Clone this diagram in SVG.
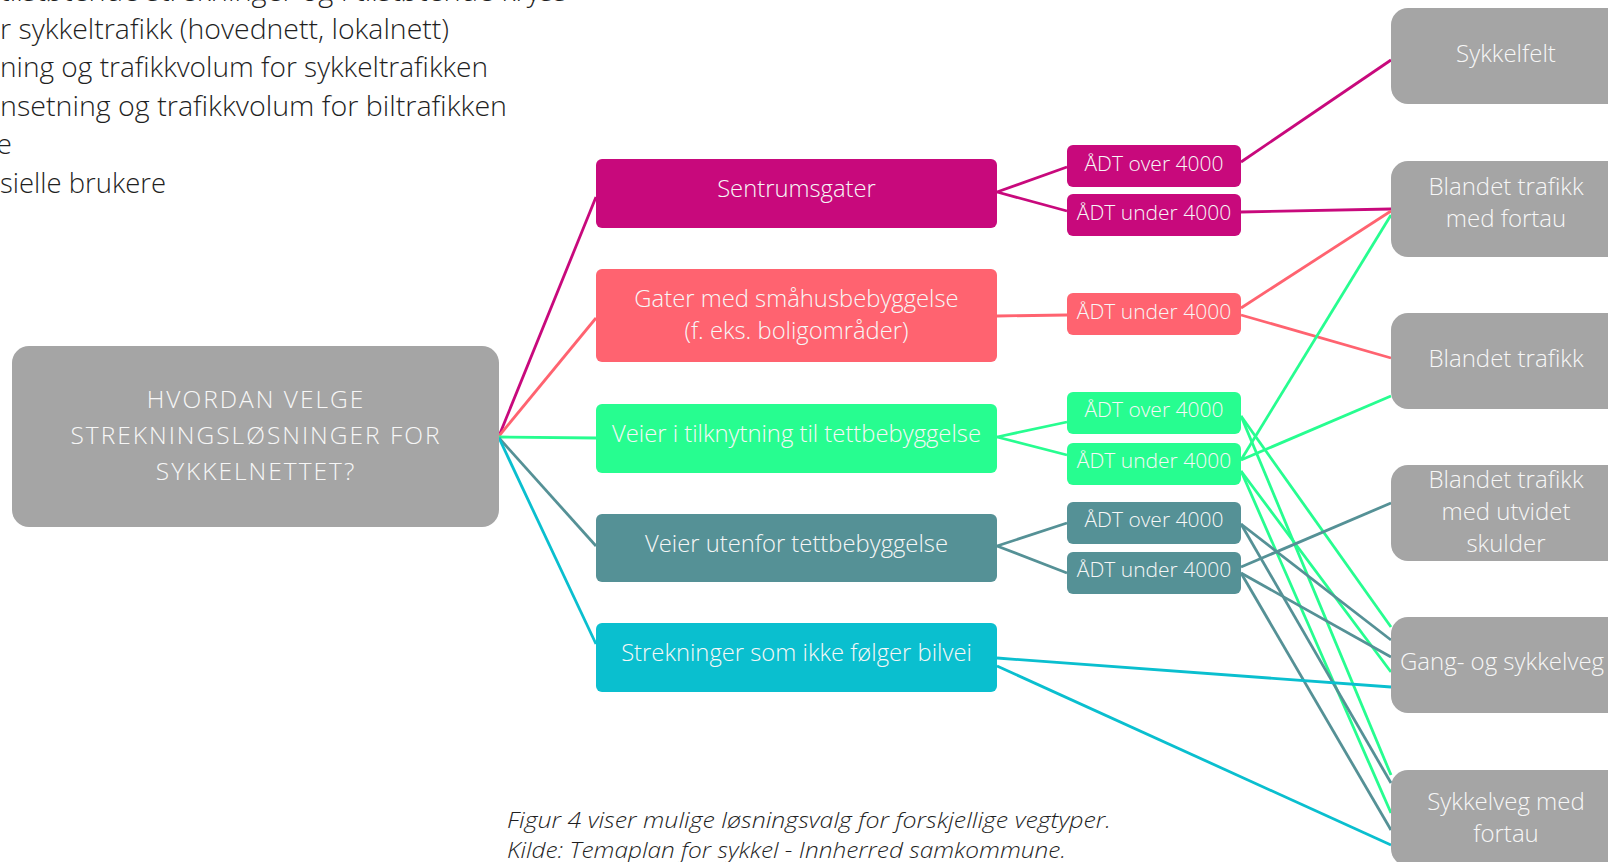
<svg xmlns="http://www.w3.org/2000/svg" width="1608" height="862" viewBox="0 0 1608 862">
<style>
.t{font-family:"Open Sans","Liberation Sans",sans-serif;font-weight:300;fill:#F7F7F7}
.l1{font-size:23.8px}
.adt{font-size:21px}
.rb{font-size:24px}
.root{font-size:24.5px;letter-spacing:2px}
.body{font-family:"Open Sans","Liberation Sans",sans-serif;font-weight:300;font-size:28px;fill:#1F1F1F}
.cap{font-family:"Open Sans","Liberation Sans",sans-serif;font-weight:300;font-style:italic;font-size:22px;fill:#1F1F1F}
.c{fill:none;stroke-width:2.8}
.pk{stroke:#C8097C}.sa{stroke:#FF6370}.gr{stroke:#27FD90}.te{stroke:#559196}.cy{stroke:#0ABFCF}
.grey{fill:#A5A5A5}
</style>
<rect width="1608" height="862" fill="#FFFFFF"/>
<g id="bodytext">
<text class="body" x="567" y="1" text-anchor="end" textLength="567" lengthAdjust="spacingAndGlyphs">tilstøtende strekninger og i tilstøtende kryss</text>
<text class="body" x="449" y="39" text-anchor="end" textLength="449" lengthAdjust="spacingAndGlyphs">r sykkeltrafikk (hovednett, lokalnett)</text>
<text class="body" x="488" y="77" text-anchor="end" textLength="488" lengthAdjust="spacingAndGlyphs">ning og trafikkvolum for sykkeltrafikken</text>
<text class="body" x="507" y="116" text-anchor="end" textLength="507" lengthAdjust="spacingAndGlyphs">nsetning og trafikkvolum for biltrafikken</text>
<text class="body" x="12" y="154" text-anchor="end">e</text>
<text class="body" x="166" y="193" text-anchor="end" textLength="166" lengthAdjust="spacingAndGlyphs">sielle brukere</text>
</g>
<g id="connectors">
<line class="c pk" x1="499" y1="436" x2="596" y2="197"/>
<line class="c sa" x1="499" y1="436" x2="596" y2="318"/>
<line class="c gr" x1="499" y1="437" x2="596" y2="438"/>
<line class="c te" x1="499" y1="438" x2="596" y2="546"/>
<line class="c cy" x1="499" y1="438" x2="596" y2="644"/>
<line class="c pk" x1="997" y1="192" x2="1067" y2="167"/>
<line class="c pk" x1="997" y1="192" x2="1067" y2="211"/>
<line class="c sa" x1="997" y1="316" x2="1067" y2="315"/>
<line class="c gr" x1="997" y1="437" x2="1067" y2="422"/>
<line class="c gr" x1="997" y1="437" x2="1067" y2="455"/>
<line class="c te" x1="997" y1="546" x2="1067" y2="523"/>
<line class="c te" x1="997" y1="546" x2="1067" y2="573"/>
<line class="c pk" x1="1241" y1="162" x2="1391" y2="60"/>
<line class="c pk" x1="1241" y1="212" x2="1391" y2="209"/>
<line class="c sa" x1="1241" y1="308" x2="1391" y2="211"/>
<line class="c sa" x1="1241" y1="315" x2="1391" y2="358"/>
<line class="c gr" x1="1241" y1="460" x2="1391" y2="215"/>
<line class="c gr" x1="1241" y1="460" x2="1391" y2="396"/>
<line class="c gr" x1="1241" y1="416" x2="1391" y2="627"/>
<line class="c gr" x1="1241" y1="416" x2="1391" y2="775"/>
<line class="c gr" x1="1241" y1="471" x2="1391" y2="672"/>
<line class="c gr" x1="1241" y1="471" x2="1391" y2="813"/>
<line class="c te" x1="1241" y1="524" x2="1391" y2="640"/>
<line class="c te" x1="1241" y1="524" x2="1391" y2="783"/>
<line class="c te" x1="1241" y1="567" x2="1391" y2="503"/>
<line class="c te" x1="1241" y1="573" x2="1391" y2="657"/>
<line class="c te" x1="1241" y1="573" x2="1391" y2="830"/>
<line class="c cy" x1="997" y1="658" x2="1391" y2="687"/>
<line class="c cy" x1="997" y1="666" x2="1391" y2="845"/>
</g>
<g id="root">
<rect class="grey" x="12" y="346" width="487" height="181" rx="17"/>
<text class="t root" text-anchor="middle"><tspan x="256" y="408">HVORDAN VELGE</tspan><tspan x="256" y="444">STREKNINGSLØSNINGER FOR</tspan><tspan x="256" y="480">SYKKELNETTET?</tspan></text>
</g>
<g id="sentrumsgater">
<rect x="596" y="159" width="401" height="69" rx="6" fill="#C8097C"/>
<text class="t l1" x="796.5" y="197" text-anchor="middle">Sentrumsgater</text>
</g>
<g id="smahus">
<rect x="596" y="269" width="401" height="93" rx="6" fill="#FF6370"/>
<text class="t l1" text-anchor="middle"><tspan x="796.5" y="307">Gater med småhusbebyggelse</tspan><tspan x="796.5" y="339">(f. eks. boligområder)</tspan></text>
</g>
<g id="tilknytning">
<rect x="596" y="404" width="401" height="69" rx="6" fill="#27FD90"/>
<text class="t l1" x="796.5" y="442" text-anchor="middle">Veier i tilknytning til tettbebyggelse</text>
</g>
<g id="utenfor">
<rect x="596" y="514" width="401" height="68" rx="6" fill="#559196"/>
<text class="t l1" x="796.5" y="552" text-anchor="middle">Veier utenfor tettbebyggelse</text>
</g>
<g id="strekninger">
<rect x="596" y="623" width="401" height="69" rx="6" fill="#0ABFCF"/>
<text class="t l1" x="796.5" y="661" text-anchor="middle">Strekninger som ikke følger bilvei</text>
</g>
<g id="adt-m-over">
<rect x="1067" y="145" width="174" height="42" rx="6" fill="#C8097C"/>
<text class="t adt" x="1154" y="171" text-anchor="middle">ÅDT over 4000</text>
</g>
<g id="adt-m-under">
<rect x="1067" y="194" width="174" height="42" rx="6" fill="#C8097C"/>
<text class="t adt" x="1154" y="220" text-anchor="middle">ÅDT under 4000</text>
</g>
<g id="adt-s-under">
<rect x="1067" y="293" width="174" height="42" rx="6" fill="#FF6370"/>
<text class="t adt" x="1154" y="319" text-anchor="middle">ÅDT under 4000</text>
</g>
<g id="adt-g-over">
<rect x="1067" y="392" width="174" height="42" rx="6" fill="#27FD90"/>
<text class="t adt" x="1154" y="417" text-anchor="middle">ÅDT over 4000</text>
</g>
<g id="adt-g-under">
<rect x="1067" y="443" width="174" height="42" rx="6" fill="#27FD90"/>
<text class="t adt" x="1154" y="468" text-anchor="middle">ÅDT under 4000</text>
</g>
<g id="adt-t-over">
<rect x="1067" y="502" width="174" height="42" rx="6" fill="#559196"/>
<text class="t adt" x="1154" y="527" text-anchor="middle">ÅDT over 4000</text>
</g>
<g id="adt-t-under">
<rect x="1067" y="552" width="174" height="42" rx="6" fill="#559196"/>
<text class="t adt" x="1154" y="577" text-anchor="middle">ÅDT under 4000</text>
</g>
<g id="sykkelfelt">
<rect class="grey" x="1391" y="8" width="240" height="96" rx="17"/>
<text class="t rb" x="1506" y="62" text-anchor="middle">Sykkelfelt</text>
</g>
<g id="blandet-fortau">
<rect class="grey" x="1391" y="161" width="240" height="96" rx="17"/>
<text class="t rb" text-anchor="middle"><tspan x="1506" y="195">Blandet trafikk</tspan><tspan x="1506" y="227">med fortau</tspan></text>
</g>
<g id="blandet">
<rect class="grey" x="1391" y="313" width="240" height="96" rx="17"/>
<text class="t rb" x="1506" y="367" text-anchor="middle">Blandet trafikk</text>
</g>
<g id="utvidet">
<rect class="grey" x="1391" y="465" width="240" height="96" rx="17"/>
<text class="t rb" text-anchor="middle"><tspan x="1506" y="488">Blandet trafikk</tspan><tspan x="1506" y="520">med utvidet</tspan><tspan x="1506" y="552">skulder</tspan></text>
</g>
<g id="gang">
<rect class="grey" x="1391" y="617" width="240" height="96" rx="17"/>
<text class="t rb" x="1502" y="670" text-anchor="middle">Gang- og sykkelveg</text>
</g>
<g id="sykkelveg-fortau">
<rect class="grey" x="1391" y="770" width="240" height="96" rx="17"/>
<text class="t rb" text-anchor="middle"><tspan x="1506" y="810">Sykkelveg med</tspan><tspan x="1506" y="842">fortau</tspan></text>
</g>
<g id="caption">
<text class="cap" x="507" y="828" textLength="604" lengthAdjust="spacingAndGlyphs">Figur 4 viser mulige løsningsvalg for forskjellige vegtyper.</text>
<text class="cap" x="507" y="858" textLength="559" lengthAdjust="spacingAndGlyphs">Kilde: Temaplan for sykkel - Innherred samkommune.</text>
</g>
</svg>
